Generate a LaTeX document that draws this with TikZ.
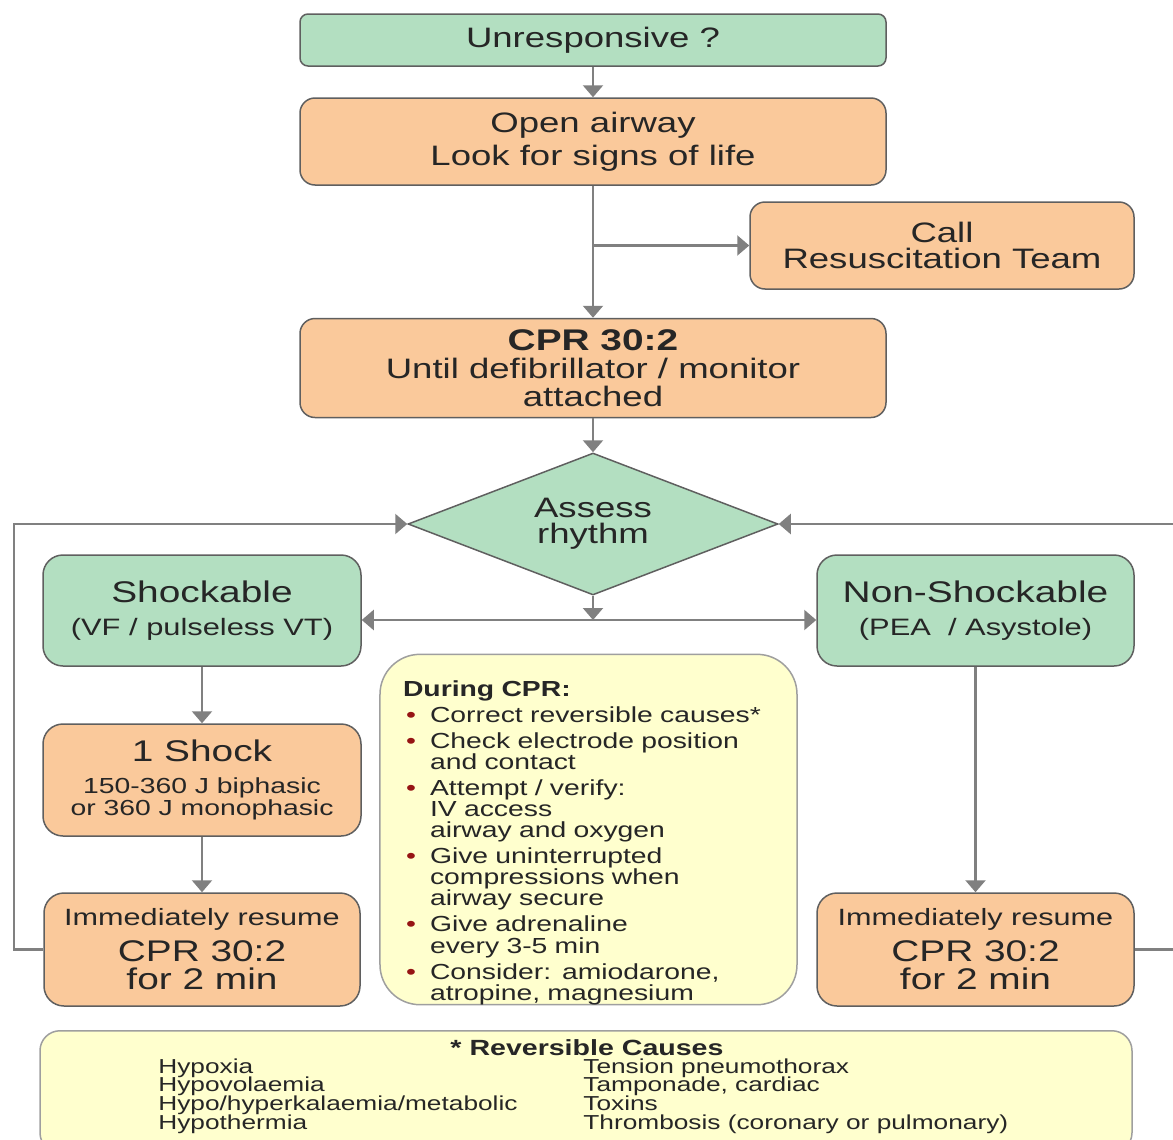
\documentclass[tikz,border=0pt]{standalone}
\usepackage{fontspec}
\setmainfont{Liberation Sans}[FakeStretch=1.3]
\usetikzlibrary{arrows.meta, shapes.geometric, positioning, calc}

\definecolor{cardgreen}{RGB}{179,223,193}
\definecolor{cardorange}{RGB}{250,201,155}
\definecolor{cardyellow}{RGB}{255,255,206}
\definecolor{linegray}{RGB}{128,128,128}
\definecolor{edgegray}{RGB}{95,95,95}
\definecolor{textgray}{RGB}{38,38,38}
\definecolor{dotred}{RGB}{150,20,20}

\newcommand{\fs}[2]{\fontsize{#1}{#2}\selectfont}
\newcommand{\cpritem}[1]{\par\vspace{2.8pt}\hangindent=5.4mm\hangafter=1\noindent
    \makebox[5.4mm][l]{\hspace{0.6mm}\textcolor{dotred}{\textbullet}}#1}

\tikzset{
    boxsize/.style 2 args={minimum width=#1*0.2mm, minimum height=#2*0.2mm},
    card/.style={draw=edgegray, line width=0.3mm, rounded corners=3mm,
        align=center, inner sep=0pt, text=textgray, font=\fs{16}{15}},
    greenbox/.style={card, fill=cardgreen},
    orangebox/.style={card, fill=cardorange},
    notebox/.style={card, fill=cardyellow, draw=edgegray!60},
    flow/.style={draw=linegray, line width=0.45mm,
        -{Triangle[length=2.4mm, width=4mm]}},
}

\begin{document}
\begin{tikzpicture}[x=0.2mm, y=-0.2mm]
    \useasboundingbox (0,0) rectangle (1173,1140);

    % main column
    \node[greenbox, boxsize={586}{52}, rounded corners=1.6mm] (unresp) at (593,40) {Unresponsive ?};
    \node[orangebox, boxsize={586}{87}, font=\fs{16}{18.5}] (airway) at (593,141.5)
        {Open airway\\Look for signs of life};
    \node[orangebox, boxsize={384}{87}] (call) at (942,245.5) {Call\\Resuscitation Team};
    \node[orangebox, boxsize={586}{99}, font=\fs{16}{16}] (cpr) at (593,368)
        {{\fs{17}{16}\bfseries CPR 30:2}\\Until defibrillator / monitor\\attached};
    \node[diamond, draw=edgegray, fill=cardgreen, line width=0.3mm, aspect=2.6,
        inner sep=0pt, boxsize={370}{142}, align=center, text=textgray,
        font=\fs{16}{15}] (rhythm) at (593,524) {Assess\\rhythm};

    % the two branches
    \node[greenbox, boxsize={318}{111}, rounded corners=4mm, font=\fs{13.5}{19}] (shock) at (202,610.5)
        {{\fs{17}{19}Shockable}\\(VF / pulseless VT)};
    \node[greenbox, boxsize={317}{111}, rounded corners=4mm, font=\fs{13.5}{19}] (noshock) at (975.5,610.5)
        {{\fs{17}{19}Non-Shockable}\\(PEA~ / Asystole)};
    \node[orangebox, boxsize={318}{112}, rounded corners=4mm, font=\fs{12.4}{12.5}] (oneshock) at (202,780)
        {{\fs{17}{12.5}1 Shock}\\[6pt]150-360 J biphasic\\or 360 J monophasic};
    \node[orangebox, boxsize={316}{113}, rounded corners=4mm, font=\fs{17}{16}] (lresume) at (202,949.5)
        {{\fs{13.4}{16}Immediately resume}\\[4.5pt]CPR 30:2\\for 2 min};
    \node[orangebox, boxsize={317}{113}, rounded corners=4mm, font=\fs{17}{16}] (rresume) at (975.5,949.5)
        {{\fs{13.4}{16}Immediately resume}\\[4.5pt]CPR 30:2\\for 2 min};

    % notes
    \node[notebox, boxsize={417}{347}, rounded corners=8mm, text width=74.2mm,
        inner xsep=4.6mm, align=left, font=\fs{12.4}{12}] (during) at (588.5,829.5) {%
        \rule{0pt}{24pt}{\bfseries During CPR:}
        \cpritem{Correct reversible causes*}
        \cpritem{Check electrode position\newline and contact}
        \cpritem{Attempt / verify:\newline IV access\newline airway and oxygen}
        \cpritem{Give uninterrupted\newline compressions when\newline airway secure}
        \cpritem{Give adrenaline\newline every 3-5 min}
        \cpritem{Consider: amiodarone,\newline atropine, magnesium}\par};
    \node[notebox, boxsize={1092}{122}, rounded corners=4mm, anchor=north] (causes) at (586,1030) {};
    \node[anchor=base, text=textgray, font=\fs{12.5}{12}\bfseries] (causetitle) at (587,1055) {* Reversible Causes};
    \node[anchor=north west, align=left, inner sep=0pt, text=textgray, font=\fs{11.5}{10.8}] (causeleft) at (158,1058)
        {Hypoxia\\Hypovolaemia\\Hypo/hyperkalaemia/metabolic\\Hypothermia};
    \node[anchor=north west, align=left, inner sep=0pt, text=textgray, font=\fs{11.5}{10.8}] (causeright) at (583,1058)
        {Tension pneumothorax\\Tamponade, cardiac\\Toxins\\Thrombosis (coronary or pulmonary)};

    % connectors
    \draw[flow] (unresp.south) -- (airway.north);
    \draw[flow] (airway.south) -- (cpr.north);
    \draw[flow] (airway.south |- call.west) -- (call.west);
    \draw[flow] (cpr.south) -- (rhythm.north);
    \coordinate (split) at (593,620);
    \draw[flow] (rhythm.south) -- (split);
    \draw[flow] (split) -- (split -| shock.east);
    \draw[flow] (split) -- (split -| noshock.west);
    \draw[flow] (shock.south) -- (oneshock.north);
    \draw[flow] (oneshock.south) -- (lresume.north);
    \draw[flow] (noshock.south) -- (rresume.north);

    % loops back to the rhythm check
    \draw[flow] (lresume.west) -- ++(-29,0) |- (rhythm.west);
    \draw[flow] (rresume.east) -- ++(60,0) |- (rhythm.east);
\end{tikzpicture}
\end{document}
